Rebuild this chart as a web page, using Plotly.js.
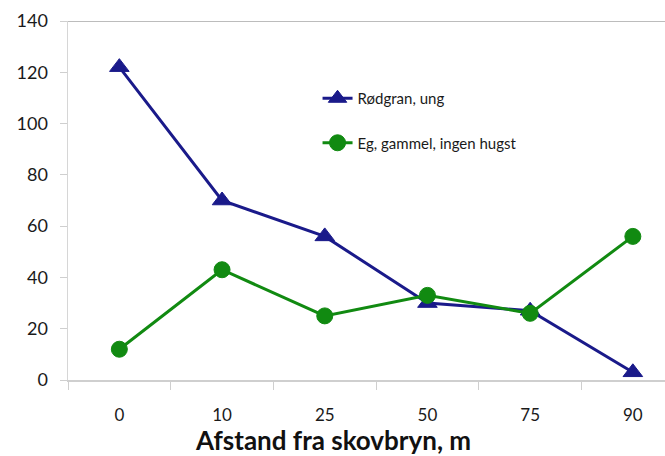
<!DOCTYPE html>
<html>
<head>
<meta charset="utf-8">
<script src="https://cdn.plot.ly/plotly-3.0.1.min.js"></script>
<style>html,body{margin:0;padding:0;background:#fff;}#chart{width:665px;height:456px;}</style>
</head>
<body>
<div id="chart"></div>
<script>
const categories = ["0", "10", "25", "50", "75", "90"];
const rodgranUng = [122, 70, 56, 30, 27, 3];
const egGammel = [12, 43, 25, 33, 26, 56];
const seriesNames = ["Rødgran, ung", "Eg, gammel, ingen hugst"];
const yTicks = [0, 20, 40, 60, 80, 100, 120, 140];
const xTitle = "Afstand fra skovbryn, m";

const FONT = "Lato, 'Liberation Sans', sans-serif";
const BLUE = "#1a1a8a";
const GREEN = "#118a11";

const traces = [
  {
    x: categories, y: rodgranUng, name: seriesNames[0], type: "scatter", mode: "lines+markers",
    legendgroup: "a",
    line: {color: BLUE, width: 3},
    marker: {symbol: "triangle-up", size: 17, color: BLUE, line: {color: BLUE, width: 1}},
    cliponaxis: false
  },
  {
    x: categories, y: egGammel, name: seriesNames[1], type: "scatter", mode: "lines+markers",
    legendgroup: "b",
    line: {color: GREEN, width: 3},
    marker: {symbol: "circle", size: 16, color: GREEN, line: {color: GREEN, width: 1}},
    cliponaxis: false
  }
];

const layout = {
  width: 665, height: 456,
  margin: {l: 68, r: 0, t: 21, b: 76},
  paper_bgcolor: "#fff", plot_bgcolor: "#fff",
  font: {family: FONT, color: "#222"},
  showlegend: true,
  legend: {
    x: 0.418, y: 0.83, xanchor: "left", yanchor: "top",
    traceorder: "grouped", tracegroupgap: 22,
    font: {size: 15, color: "#1a1a1a", family: FONT},
    bgcolor: "rgba(0,0,0,0)"
  },
  xaxis: {
    type: "category",
    range: [-0.5, 5.313],
    showgrid: false, zeroline: false,
    showline: true, linecolor: "#cfcfcf", linewidth: 2,
    ticks: "outside", tickson: "boundaries", ticklen: 8, tickcolor: "#cfcfcf", tickwidth: 1,
    ticklabelstandoff: 19,
    tickfont: {size: 17, color: "#1a1a1a", family: FONT}
  },
  yaxis: {
    range: [0, 140],
    tickvals: yTicks,
    showgrid: false, zeroline: false,
    showline: true, linecolor: "#d6d6d6", linewidth: 1.5,
    ticks: "outside", ticklen: 7, tickcolor: "#cfcfcf", tickwidth: 1,
    ticklabelstandoff: 8,
    tickfont: {size: 18, color: "#1a1a1a", family: FONT}
  },
  shapes: [
    {type: "line", xref: "paper", yref: "y", x0: 0, x1: 1, y0: 140, y1: 140,
     line: {color: "#7a7a7a", width: 1.2}}
  ],
  annotations: [
    {text: "<b>" + xTitle + "</b>", xref: "paper", yref: "paper",
     x: 0.444, y: -0.168, xanchor: "center", yanchor: "middle", showarrow: false,
     font: {size: 26, color: "#111", family: FONT}}
  ]
};

Plotly.newPlot("chart", traces, layout, {displayModeBar: false, staticPlot: true});
</script>
</body>
</html>
